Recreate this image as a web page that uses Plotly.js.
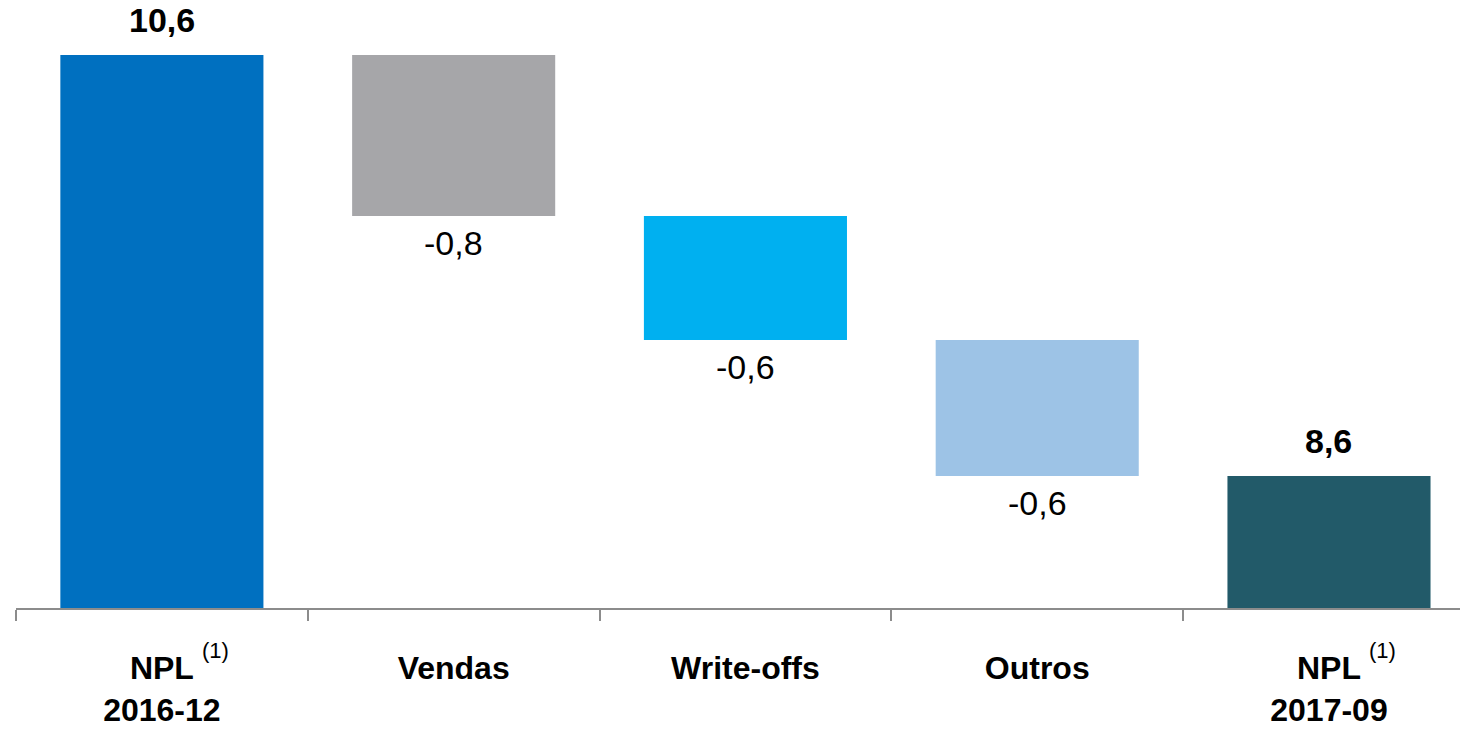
<!DOCTYPE html>
<html>
<head>
<meta charset="utf-8">
<script src="https://cdn.plot.ly/plotly-3.0.1.min.js"></script>
<style>
  html, body { margin: 0; padding: 0; background: #ffffff; }
  #chart { width: 1460px; height: 731px; }
</style>
</head>
<body>
<div id="chart"></div>
<script>
// ---- Data ----
const categories = ['NPL 2016-12', 'Vendas', 'Write-offs', 'Outros', 'NPL 2017-09'];
const tickLabels = ['<b>NPL</b><br><b>2016-12</b>', '<b>Vendas</b>', '<b>Write-offs</b>', '<b>Outros</b>', '<b>NPL</b><br><b>2017-09</b>'];
const superscripts = ['(1)', '', '', '', '(1)'];
const measures = ['total', 'relative', 'relative', 'relative', 'total'];
const values = [10.6, -0.765, -0.589, -0.646, 8.6];
const valueLabels = ['10,6', '-0,8', '-0,6', '-0,6', '8,6'];
const barColors = ['#0070C0', '#A6A6A9', '#00B0F0', '#9DC3E6', '#225A69'];

// ---- Build waterfall geometry from data ----
const bases = [];
const lengths = [];
let running = 0;
measures.forEach((m, i) => {
  if (m === 'total') {
    bases.push(0);
    lengths.push(values[i]);
    running = values[i];
  } else {
    bases.push(running);
    lengths.push(values[i]);
    running += values[i];
  }
});

const FONT = 'Liberation Sans, Arial, Helvetica, sans-serif';

const trace = {
  type: 'bar',
  x: categories,
  y: lengths,
  base: bases,
  marker: { color: barColors, line: { width: 0 } },
  hoverinfo: 'skip',
  showlegend: false
};

const annotations = [];
measures.forEach((m, i) => {
  const isTotal = m === 'total';
  const end = bases[i] + lengths[i];
  annotations.push({
    x: i, y: end, xref: 'x', yref: 'y',
    text: isTotal ? '<b>' + valueLabels[i] + '</b>' : valueLabels[i],
    showarrow: false,
    yanchor: isTotal ? 'bottom' : 'top',
    yshift: isTotal ? 14 : -6,
    font: { family: FONT, size: 34, color: '#000000' }
  });
  if (superscripts[i]) {
    annotations.push({
      x: i, y: 0, xref: 'x', yref: 'paper',
      text: superscripts[i],
      showarrow: false,
      xanchor: 'center', yanchor: 'middle',
      xshift: 54, yshift: -42,
      font: { family: FONT, size: 22, color: '#000000' }
    });
  }
});

const layout = {
  width: 1460,
  height: 731,
  margin: { l: 16, r: 0, t: 10, b: 123, pad: 0 },
  paper_bgcolor: '#ffffff',
  plot_bgcolor: '#ffffff',
  bargap: 0.304,
  separators: ',.',
  font: { family: FONT, color: '#000000' },
  xaxis: {
    type: 'category',
    range: [-0.5, 4.449],
    tickmode: 'array',
    tickvals: categories,
    ticktext: tickLabels,
    tickson: 'boundaries',
    ticks: 'outside',
    ticklen: 11,
    tickwidth: 2,
    tickcolor: '#8c8c8c',
    ticklabelstandoff: 31,
    showline: true,
    linecolor: '#8c8c8c',
    linewidth: 2,
    showgrid: false,
    zeroline: false,
    tickfont: { family: FONT, size: 32, color: '#000000' },
    fixedrange: true
  },
  yaxis: {
    range: [7.973, 10.814],
    visible: false,
    showgrid: false,
    zeroline: false,
    fixedrange: true
  },
  annotations: annotations
};

Plotly.newPlot('chart', [trace], layout, { displayModeBar: false, staticPlot: true });
</script>
</body>
</html>
